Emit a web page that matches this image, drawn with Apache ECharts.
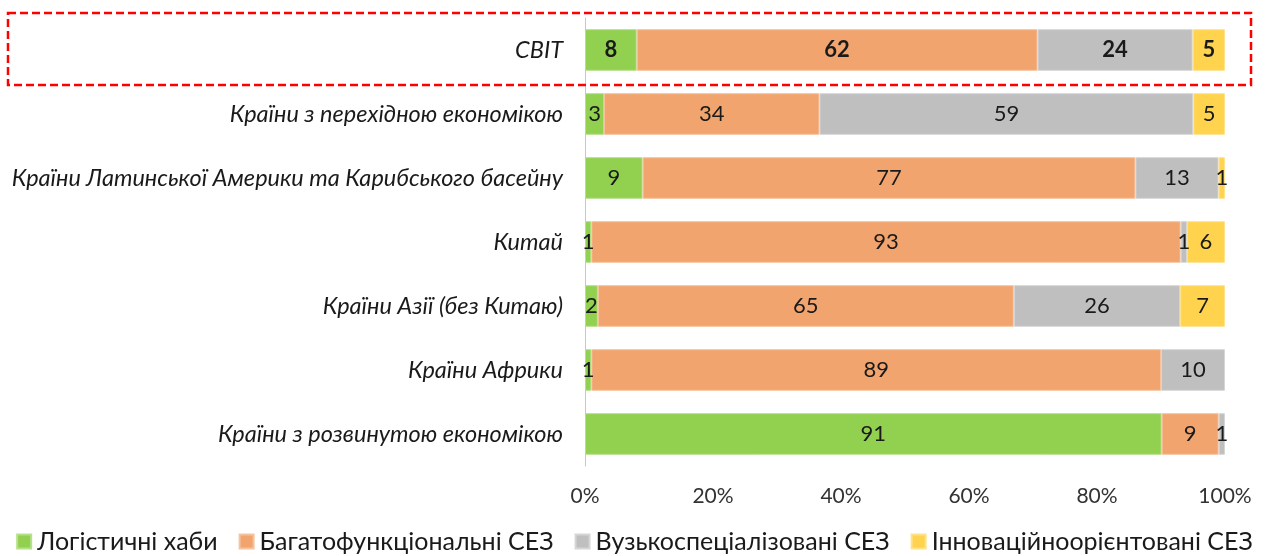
<!DOCTYPE html>
<html>
<head>
<meta charset="utf-8">
<script src="https://cdn.jsdelivr.net/npm/echarts@6/dist/echarts.min.js"></script>
<style>
  html, body { margin: 0; padding: 0; background: #fff; }
  #chart { width: 1269px; height: 556px; }
</style>
</head>
<body>
<div id="chart"></div>
<script>
// категорії (зверху вниз)
const regions = [
    'СВІТ',
    'Країни з перехідною економікою',
    'Країни Латинської Америки та Карибського басейну',
    'Китай',
    'Країни Азії (без Китаю)',
    'Країни Африки',
    'Країни з розвинутою економікою'
];

const seriesNames = [
    'Логістичні хаби',
    'Багатофункціональні СЕЗ',
    'Вузькоспеціалізовані СЕЗ',
    'Інноваційноорієнтовані СЕЗ'
];

// значення з підписів на діаграмі, %
const logistics = [8, 3, 9, 1, 2, 1, 91];
const multifunctional = [62, 34, 77, 93, 65, 89, 9];
const specialized = [24, 59, 13, 1, 26, 10, 1];
const innovative = [5, 5, 1, 6, 7, 0, 0];

const xTicks = [0, 20, 40, 60, 80, 100];

const colors = ['#92D050', '#F1A46E', '#BFBFBF', '#FFD34D'];
const borders = ['#B6E08A', '#F6C39E', '#D6D6D6', '#FFE28A'];

const raw = [logistics, multifunctional, specialized, innovative];
// Excel нормує кожен рядок до 100%
const totals = regions.map((_, i) => raw.reduce((s, arr) => s + arr[i], 0));

const chart = echarts.init(document.getElementById('chart'));

const font = 'Lato, "Open Sans", sans-serif';

const series = raw.map((arr, k) => ({
    name: seriesNames[k],
    type: 'bar',
    stack: 'total',
    barCategoryGap: '35%',
    itemStyle: {
        color: colors[k],
        borderColor: borders[k],
        borderWidth: 1
    },
    label: {
        show: true,
        position: 'inside',
        color: '#1a1a1a',
        fontFamily: font,
        fontSize: 22,
        formatter: function (p) {
            const v = arr[p.dataIndex];
            return v ? String(v) : '';
        }
    },
    data: arr.map((v, i) => ({
        value: v ? v / totals[i] * 100 : null,
        label: i === 0 ? { fontWeight: 'bold' } : undefined
    }))
}));

const option = {
    animation: false,
    textStyle: { fontFamily: font },
    grid: {
        left: 585,
        right: 44,
        top: 18,
        bottom: 90,
        containLabel: false
    },
    legend: {
        bottom: -3,
        left: 'center',
        itemWidth: 14,
        itemHeight: 14,
        itemGap: 21,
        icon: 'rect',
        textStyle: {
            fontFamily: font,
            fontSize: 25,
            color: '#1a1a1a',
            padding: [0, 0, 0, 1]
        },
        data: seriesNames
    },
    xAxis: {
        type: 'value',
        min: xTicks[0],
        max: xTicks[xTicks.length - 1],
        interval: 20,
        axisLine: { show: false },
        axisTick: { show: false },
        splitLine: { show: false },
        axisLabel: {
            formatter: '{value}%',
            fontFamily: font,
            fontSize: 21,
            color: '#333',
            margin: 20
        }
    },
    yAxis: {
        type: 'category',
        inverse: true,
        data: regions,
        axisLine: { show: true, lineStyle: { color: '#C8C8C8', width: 1 } },
        axisTick: { show: false },
        axisLabel: {
            fontFamily: font,
            fontStyle: 'italic',
            fontSize: 23.5,
            color: '#1a1a1a',
            margin: 22
        }
    },
    graphic: [
        {
            type: 'rect',
            shape: { x: 8, y: 13, width: 1243, height: 72 },
            style: {
                fill: 'none',
                stroke: '#FF0000',
                lineWidth: 2.5,
                lineDash: [8, 4]
            },
            z: 100
        }
    ],
    series: series
};

chart.setOption(option);
</script>
</body>
</html>
